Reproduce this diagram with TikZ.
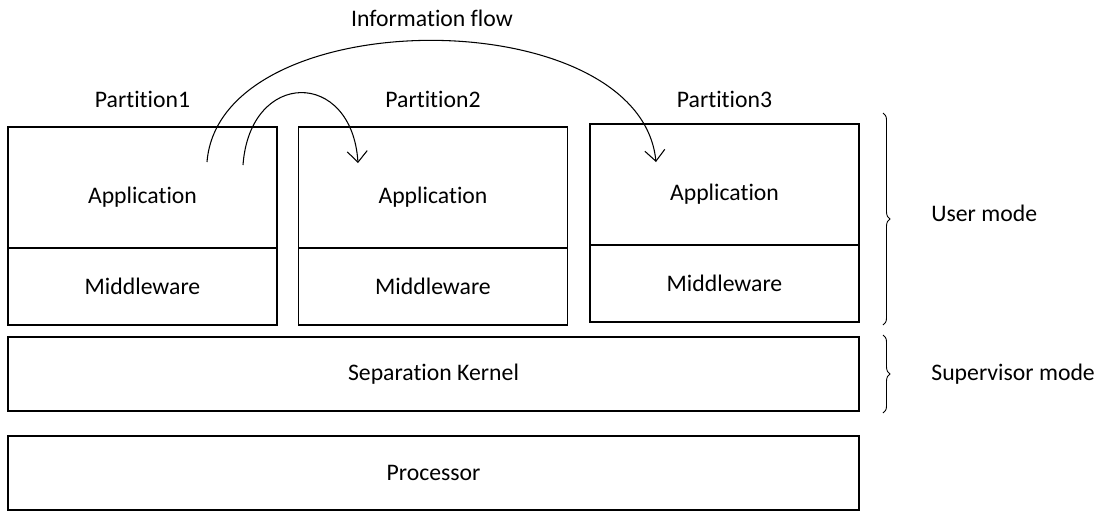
\documentclass[tikz,border=0pt]{standalone}
\usepackage{fontspec}
\setmainfont{Carlito}[Ligatures=NoCommon]
\usepackage{tikz}
\usetikzlibrary{arrows.meta,positioning,decorations.pathreplacing}

\begin{document}
\begin{tikzpicture}[
    font=\fontsize{13.5}{16}\selectfont,
    line width=0.6pt,
    box/.style={rectangle, draw, minimum width=5.38cm, inner sep=0pt, outer sep=0pt},
    app/.style={box, minimum height=2.42cm},
    mw/.style={box, minimum height=1.54cm},
    layer/.style={box, minimum width=17.02cm, minimum height=1.48cm},
    flow/.style={-{Straight Barb[length=2.2mm, width=4mm]}},
    mode/.style={decorate, decoration={brace, amplitude=4pt}, line width=0.5pt}
]
\useasboundingbox (0,0) rectangle (22.04,-10.24);

% Partitions
\node[app, label={[yshift=-0.2cm]center:Application}] (app1) at (2.85,-3.75) {};
\node[mw, below=0pt of app1] (mw1) {Middleware};
\node[app, label={[yshift=-0.2cm]center:Application}] (app2) at (8.66,-3.75) {};
\node[mw, below=0pt of app2] (mw2) {Middleware};
\node[app, label={[yshift=-0.2cm]center:Application}] (app3) at (14.49,-3.69) {};
\node[mw, below=0pt of app3] (mw3) {Middleware};

\node[above=0.25cm of app1] (part1) {Partition1};
\node[above=0.25cm of app2] (part2) {Partition2};
\node (part3) at (part2 -| app3) {Partition3};

% Kernel and processor
\node[layer] (kernel) at (8.67,-7.48) {Separation Kernel};
\node[layer] (cpu) at (8.67,-9.46) {Processor};

% Information flow
\node (flowlbl) at (8.64,-0.36) {Information flow};
\coordinate (flowA) at (4.14,-3.24);
\coordinate (flowB) at (13.12,-3.24);
\coordinate (flowC) at (4.86,-3.30);
\coordinate (flowD) at (7.16,-3.26);
\draw[flow] (flowA) .. controls (4.4,0) and (12.8,0) .. (flowB);
\draw[flow] (flowC) .. controls (5.0,-1.38) and (7.04,-1.38) .. (flowD);

% Modes
\coordinate (userTop) at (17.66,-2.26);
\coordinate (userBot) at (17.66,-6.50);
\coordinate (supTop) at (17.66,-6.70);
\coordinate (supBot) at (17.66,-8.26);
\draw[mode] (userTop) -- (userBot);
\draw[mode] (supTop) -- (supBot);
\node[anchor=west] (usermode) at (18.5,-4.26) {User mode};
\node[anchor=west] (supmode) at (18.5,-7.48) {Supervisor mode};
\end{tikzpicture}
\end{document}
